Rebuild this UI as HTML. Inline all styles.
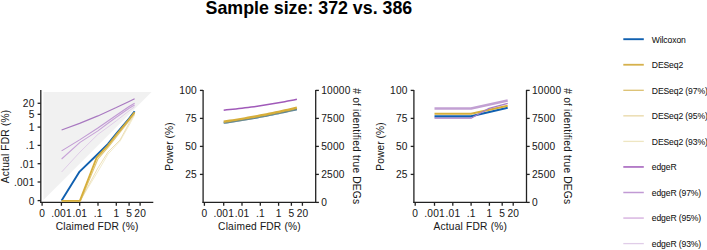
<!DOCTYPE html>
<html><head><meta charset="utf-8"><style>
html,body{margin:0;padding:0;background:#fff;}
svg{display:block;font-family:"Liberation Sans", sans-serif;}
</style></head><body>
<svg width="707" height="250" viewBox="0 0 707 250">
<rect width="707" height="250" fill="#fff"/>
<text x="308.9" y="14.1" text-anchor="middle" font-size="17.8" font-weight="bold" fill="#000">Sample size: 372 vs. 386</text>
<polygon points="43.4,92 151.5,92 43.4,200.1" fill="#f1f1f1"/>
<line x1="40.8" y1="90" x2="40.8" y2="202.95" stroke="#222" stroke-width="1.3"/>
<line x1="37.6" y1="200.6" x2="40.8" y2="200.6" stroke="#222" stroke-width="1.3"/>
<text x="34.6" y="204.5" text-anchor="end" font-size="10.2" font-weight="normal" fill="#1a1a1a" letter-spacing="0.2" stroke="#1a1a1a" stroke-width="0.05">0</text>
<line x1="37.6" y1="182" x2="40.8" y2="182" stroke="#222" stroke-width="1.3"/>
<text x="34.6" y="185.9" text-anchor="end" font-size="10.2" font-weight="normal" fill="#1a1a1a" letter-spacing="0.2" stroke="#1a1a1a" stroke-width="0.05">.001</text>
<line x1="37.6" y1="163.7" x2="40.8" y2="163.7" stroke="#222" stroke-width="1.3"/>
<text x="34.6" y="167.6" text-anchor="end" font-size="10.2" font-weight="normal" fill="#1a1a1a" letter-spacing="0.2" stroke="#1a1a1a" stroke-width="0.05">.01</text>
<line x1="37.6" y1="145.4" x2="40.8" y2="145.4" stroke="#222" stroke-width="1.3"/>
<text x="34.6" y="149.3" text-anchor="end" font-size="10.2" font-weight="normal" fill="#1a1a1a" letter-spacing="0.2" stroke="#1a1a1a" stroke-width="0.05">.1</text>
<line x1="37.6" y1="127.1" x2="40.8" y2="127.1" stroke="#222" stroke-width="1.3"/>
<text x="34.6" y="131" text-anchor="end" font-size="10.2" font-weight="normal" fill="#1a1a1a" letter-spacing="0.2" stroke="#1a1a1a" stroke-width="0.05">1</text>
<line x1="37.6" y1="114.31" x2="40.8" y2="114.31" stroke="#222" stroke-width="1.3"/>
<text x="34.6" y="118.21" text-anchor="end" font-size="10.2" font-weight="normal" fill="#1a1a1a" letter-spacing="0.2" stroke="#1a1a1a" stroke-width="0.05">5</text>
<line x1="37.6" y1="103.29" x2="40.8" y2="103.29" stroke="#222" stroke-width="1.3"/>
<text x="34.6" y="107.19" text-anchor="end" font-size="10.2" font-weight="normal" fill="#1a1a1a" letter-spacing="0.2" stroke="#1a1a1a" stroke-width="0.05">20</text>
<line x1="40.25" y1="202.4" x2="153.3" y2="202.4" stroke="#222" stroke-width="1.3"/>
<line x1="42.1" y1="202.4" x2="42.1" y2="205.8" stroke="#222" stroke-width="1.3"/>
<text x="42.2" y="216.6" text-anchor="middle" font-size="10.2" font-weight="normal" fill="#1a1a1a" letter-spacing="0.2" stroke="#1a1a1a" stroke-width="0.05">0</text>
<line x1="61.4" y1="202.4" x2="61.4" y2="205.8" stroke="#222" stroke-width="1.3"/>
<text x="61.5" y="216.6" text-anchor="middle" font-size="10.2" font-weight="normal" fill="#1a1a1a" letter-spacing="0.2" stroke="#1a1a1a" stroke-width="0.05">.001</text>
<line x1="79.7" y1="202.4" x2="79.7" y2="205.8" stroke="#222" stroke-width="1.3"/>
<text x="79.8" y="216.6" text-anchor="middle" font-size="10.2" font-weight="normal" fill="#1a1a1a" letter-spacing="0.2" stroke="#1a1a1a" stroke-width="0.05">.01</text>
<line x1="98" y1="202.4" x2="98" y2="205.8" stroke="#222" stroke-width="1.3"/>
<text x="98.1" y="216.6" text-anchor="middle" font-size="10.2" font-weight="normal" fill="#1a1a1a" letter-spacing="0.2" stroke="#1a1a1a" stroke-width="0.05">.1</text>
<line x1="116.3" y1="202.4" x2="116.3" y2="205.8" stroke="#222" stroke-width="1.3"/>
<text x="116.4" y="216.6" text-anchor="middle" font-size="10.2" font-weight="normal" fill="#1a1a1a" letter-spacing="0.2" stroke="#1a1a1a" stroke-width="0.05">1</text>
<line x1="129.09" y1="202.4" x2="129.09" y2="205.8" stroke="#222" stroke-width="1.3"/>
<text x="129.19" y="216.6" text-anchor="middle" font-size="10.2" font-weight="normal" fill="#1a1a1a" letter-spacing="0.2" stroke="#1a1a1a" stroke-width="0.05">5</text>
<line x1="140.11" y1="202.4" x2="140.11" y2="205.8" stroke="#222" stroke-width="1.3"/>
<text x="140.21" y="216.6" text-anchor="middle" font-size="10.2" font-weight="normal" fill="#1a1a1a" letter-spacing="0.2" stroke="#1a1a1a" stroke-width="0.05">20</text>
<text x="97.15" y="229.8" text-anchor="middle" font-size="10.2" font-weight="normal" fill="#1a1a1a" letter-spacing="0.2" stroke="#1a1a1a" stroke-width="0.05">Claimed FDR (%)</text>
<text x="9.1" y="146.4" text-anchor="middle" font-size="10.2" font-weight="normal" fill="#1a1a1a" transform="rotate(-90 9.1 146.4)" letter-spacing="0.2" stroke="#1a1a1a" stroke-width="0.05">Actual FDR (%)</text>
<polyline points="61.6,172 80,152 97.9,134.4 108,127 116.3,120.8 129.1,110.8 134.6,106.8" fill="none" stroke="#e0cde8" stroke-width="1.0" stroke-linejoin="round" stroke-linecap="butt"/>
<polyline points="61.6,159 80,142.4 97.9,130.9 108,123.3 116.3,117.2 129.1,108.3 134.6,105" fill="none" stroke="#c7a2d8" stroke-width="1.1" stroke-linejoin="round" stroke-linecap="butt"/>
<polyline points="61.6,150.9 80,139.6 97.9,128 108,121 116.3,115.3 129.1,106.5 134.6,103.2" fill="none" stroke="#c19ad4" stroke-width="1.1" stroke-linejoin="round" stroke-linecap="butt"/>
<polyline points="61.6,200.6 80.2,200.6 97.9,171.5 108,154.2 120,141.2 129.8,124 134.6,115" fill="none" stroke="#eee6c2" stroke-width="0.8" stroke-linejoin="round" stroke-linecap="butt"/>
<polyline points="61.6,200.6 80.4,200.6 97.9,168 108,152 120,140 129.5,122.5 134.6,114" fill="none" stroke="#e8d7a5" stroke-width="0.8" stroke-linejoin="round" stroke-linecap="butt"/>
<polyline points="61.6,200.9 80.6,200.9 98,158.8 108.6,146.6 116.9,136.2 129.4,120.4 134.6,113.2" fill="none" stroke="#e0c674" stroke-width="1.1" stroke-linejoin="round" stroke-linecap="butt"/>
<polyline points="61.6,200.5 79.6,171.6 97.6,154.2 108,143.8 116.3,133.6 129.1,118.5 134.6,111.2" fill="none" stroke="#1060b0" stroke-width="1.9" stroke-linejoin="round" stroke-linecap="butt"/>
<polyline points="61.6,200.9 79.8,200.9 96.6,157.6 108,145.3 116.3,134.8 129.1,119.3 134.6,112.3" fill="none" stroke="#d6ae3a" stroke-width="1.75" stroke-linejoin="round" stroke-linecap="butt"/>
<polyline points="61.6,130 79.6,123.4 97.9,115.9 116.3,107.6 129.1,101.4 134.6,98.8" fill="none" stroke="#a878c0" stroke-width="1.15" stroke-linejoin="round" stroke-linecap="butt"/>
<line x1="203.1" y1="89.9" x2="203.1" y2="202.95" stroke="#222" stroke-width="1.3"/>
<line x1="315.7" y1="89.9" x2="315.7" y2="202.95" stroke="#222" stroke-width="1.3"/>
<line x1="199.9" y1="174.4" x2="203.1" y2="174.4" stroke="#222" stroke-width="1.3"/>
<text x="196.9" y="178.3" text-anchor="end" font-size="10.2" font-weight="normal" fill="#1a1a1a" letter-spacing="0.2" stroke="#1a1a1a" stroke-width="0.05">25</text>
<line x1="199.9" y1="146.4" x2="203.1" y2="146.4" stroke="#222" stroke-width="1.3"/>
<text x="196.9" y="150.3" text-anchor="end" font-size="10.2" font-weight="normal" fill="#1a1a1a" letter-spacing="0.2" stroke="#1a1a1a" stroke-width="0.05">50</text>
<line x1="199.9" y1="118.4" x2="203.1" y2="118.4" stroke="#222" stroke-width="1.3"/>
<text x="196.9" y="122.3" text-anchor="end" font-size="10.2" font-weight="normal" fill="#1a1a1a" letter-spacing="0.2" stroke="#1a1a1a" stroke-width="0.05">75</text>
<line x1="199.9" y1="90.4" x2="203.1" y2="90.4" stroke="#222" stroke-width="1.3"/>
<text x="196.9" y="94.3" text-anchor="end" font-size="10.2" font-weight="normal" fill="#1a1a1a" letter-spacing="0.2" stroke="#1a1a1a" stroke-width="0.05">100</text>
<line x1="315.7" y1="202.4" x2="318.9" y2="202.4" stroke="#222" stroke-width="1.3"/>
<text x="321.2" y="206.3" text-anchor="start" font-size="10.2" font-weight="normal" fill="#1a1a1a" letter-spacing="0.2" stroke="#1a1a1a" stroke-width="0.05">0</text>
<line x1="315.7" y1="174.4" x2="318.9" y2="174.4" stroke="#222" stroke-width="1.3"/>
<text x="321.2" y="178.3" text-anchor="start" font-size="10.2" font-weight="normal" fill="#1a1a1a" letter-spacing="0.2" stroke="#1a1a1a" stroke-width="0.05">2500</text>
<line x1="315.7" y1="146.4" x2="318.9" y2="146.4" stroke="#222" stroke-width="1.3"/>
<text x="321.2" y="150.3" text-anchor="start" font-size="10.2" font-weight="normal" fill="#1a1a1a" letter-spacing="0.2" stroke="#1a1a1a" stroke-width="0.05">5000</text>
<line x1="315.7" y1="118.4" x2="318.9" y2="118.4" stroke="#222" stroke-width="1.3"/>
<text x="321.2" y="122.3" text-anchor="start" font-size="10.2" font-weight="normal" fill="#1a1a1a" letter-spacing="0.2" stroke="#1a1a1a" stroke-width="0.05">7500</text>
<line x1="315.7" y1="90.4" x2="318.9" y2="90.4" stroke="#222" stroke-width="1.3"/>
<text x="321.2" y="94.3" text-anchor="start" font-size="10.2" font-weight="normal" fill="#1a1a1a" letter-spacing="0.2" stroke="#1a1a1a" stroke-width="0.05">10000</text>
<line x1="202.55" y1="202.4" x2="315.7" y2="202.4" stroke="#222" stroke-width="1.3"/>
<line x1="204.4" y1="202.4" x2="204.4" y2="205.8" stroke="#222" stroke-width="1.3"/>
<text x="204.5" y="216.6" text-anchor="middle" font-size="10.2" font-weight="normal" fill="#1a1a1a" letter-spacing="0.2" stroke="#1a1a1a" stroke-width="0.05">0</text>
<line x1="223.7" y1="202.4" x2="223.7" y2="205.8" stroke="#222" stroke-width="1.3"/>
<text x="223.8" y="216.6" text-anchor="middle" font-size="10.2" font-weight="normal" fill="#1a1a1a" letter-spacing="0.2" stroke="#1a1a1a" stroke-width="0.05">.001</text>
<line x1="242" y1="202.4" x2="242" y2="205.8" stroke="#222" stroke-width="1.3"/>
<text x="242.1" y="216.6" text-anchor="middle" font-size="10.2" font-weight="normal" fill="#1a1a1a" letter-spacing="0.2" stroke="#1a1a1a" stroke-width="0.05">.01</text>
<line x1="260.3" y1="202.4" x2="260.3" y2="205.8" stroke="#222" stroke-width="1.3"/>
<text x="260.4" y="216.6" text-anchor="middle" font-size="10.2" font-weight="normal" fill="#1a1a1a" letter-spacing="0.2" stroke="#1a1a1a" stroke-width="0.05">.1</text>
<line x1="278.6" y1="202.4" x2="278.6" y2="205.8" stroke="#222" stroke-width="1.3"/>
<text x="278.7" y="216.6" text-anchor="middle" font-size="10.2" font-weight="normal" fill="#1a1a1a" letter-spacing="0.2" stroke="#1a1a1a" stroke-width="0.05">1</text>
<line x1="291.39" y1="202.4" x2="291.39" y2="205.8" stroke="#222" stroke-width="1.3"/>
<text x="291.49" y="216.6" text-anchor="middle" font-size="10.2" font-weight="normal" fill="#1a1a1a" letter-spacing="0.2" stroke="#1a1a1a" stroke-width="0.05">5</text>
<line x1="302.41" y1="202.4" x2="302.41" y2="205.8" stroke="#222" stroke-width="1.3"/>
<text x="302.51" y="216.6" text-anchor="middle" font-size="10.2" font-weight="normal" fill="#1a1a1a" letter-spacing="0.2" stroke="#1a1a1a" stroke-width="0.05">20</text>
<text x="259.5" y="229.8" text-anchor="middle" font-size="10.2" font-weight="normal" fill="#1a1a1a" letter-spacing="0.2" stroke="#1a1a1a" stroke-width="0.05">Claimed FDR (%)</text>
<text x="173.4" y="146.5" text-anchor="middle" font-size="10.2" font-weight="normal" fill="#1a1a1a" transform="rotate(-90 173.4 146.5)" letter-spacing="0.08" stroke="#1a1a1a" stroke-width="0.05">Power (%)</text>
<text x="353.1" y="146.3" text-anchor="middle" font-size="10.2" font-weight="normal" fill="#1a1a1a" transform="rotate(90 353.1 146.3)" letter-spacing="0.2" stroke="#1a1a1a" stroke-width="0.05"># of identified true DEGs</text>
<polyline points="223.7,122.85 226.75,122.41 229.8,121.96 232.85,121.5 235.9,121.03 238.95,120.55 242,120.05 245.05,119.55 248.1,119.03 251.15,118.5 254.2,117.96 257.25,117.41 260.3,116.85 263.35,116.28 266.4,115.69 269.45,115.1 272.5,114.49 275.55,113.87 278.6,113.24 281.65,112.6 284.7,111.94 287.75,111.28 290.8,110.61 293.85,109.92 296.9,109.22" fill="none" stroke="#1060b0" stroke-width="2.0" stroke-linejoin="round" stroke-linecap="butt"/>
<polyline points="223.7,121.75 226.75,121.3 229.8,120.84 232.85,120.36 235.9,119.88 238.95,119.38 242,118.88 245.05,118.36 248.1,117.83 251.15,117.29 254.2,116.74 257.25,116.17 260.3,115.6 263.35,115.01 266.4,114.42 269.45,113.81 272.5,113.19 275.55,112.56 278.6,111.91 281.65,111.26 284.7,110.59 287.75,109.92 290.8,109.23 293.85,108.53 296.9,107.82" fill="none" stroke="#d6ae3a" stroke-width="2.5" stroke-linejoin="round" stroke-linecap="butt"/>
<polyline points="223.7,123.35 226.75,122.91 229.8,122.46 232.85,122 235.9,121.53 238.95,121.05 242,120.55 245.05,120.05 248.1,119.53 251.15,119 254.2,118.46 257.25,117.91 260.3,117.35 263.35,116.78 266.4,116.19 269.45,115.6 272.5,114.99 275.55,114.37 278.6,113.74 281.65,113.1 284.7,112.44 287.75,111.78 290.8,111.11 293.85,110.42 296.9,109.72" fill="none" stroke="#e0c060" stroke-width="1.0" stroke-opacity="0.45"/>
<polyline points="223.7,110.14 226.75,109.86 229.8,109.56 232.85,109.25 235.9,108.92 238.95,108.58 242,108.22 245.05,107.85 248.1,107.46 251.15,107.06 254.2,106.65 257.25,106.22 260.3,105.77 263.35,105.31 266.4,104.84 269.45,104.35 272.5,103.85 275.55,103.33 278.6,102.8 281.65,102.25 284.7,101.69 287.75,101.11 290.8,100.52 293.85,99.92 296.9,99.29" fill="none" stroke="#a05ab9" stroke-width="1.5" stroke-linejoin="round" stroke-linecap="butt"/>
<line x1="413.9" y1="89.9" x2="413.9" y2="202.95" stroke="#222" stroke-width="1.3"/>
<line x1="526.5" y1="89.9" x2="526.5" y2="202.95" stroke="#222" stroke-width="1.3"/>
<line x1="410.7" y1="174.4" x2="413.9" y2="174.4" stroke="#222" stroke-width="1.3"/>
<text x="407.7" y="178.3" text-anchor="end" font-size="10.2" font-weight="normal" fill="#1a1a1a" letter-spacing="0.2" stroke="#1a1a1a" stroke-width="0.05">25</text>
<line x1="410.7" y1="146.4" x2="413.9" y2="146.4" stroke="#222" stroke-width="1.3"/>
<text x="407.7" y="150.3" text-anchor="end" font-size="10.2" font-weight="normal" fill="#1a1a1a" letter-spacing="0.2" stroke="#1a1a1a" stroke-width="0.05">50</text>
<line x1="410.7" y1="118.4" x2="413.9" y2="118.4" stroke="#222" stroke-width="1.3"/>
<text x="407.7" y="122.3" text-anchor="end" font-size="10.2" font-weight="normal" fill="#1a1a1a" letter-spacing="0.2" stroke="#1a1a1a" stroke-width="0.05">75</text>
<line x1="410.7" y1="90.4" x2="413.9" y2="90.4" stroke="#222" stroke-width="1.3"/>
<text x="407.7" y="94.3" text-anchor="end" font-size="10.2" font-weight="normal" fill="#1a1a1a" letter-spacing="0.2" stroke="#1a1a1a" stroke-width="0.05">100</text>
<line x1="526.5" y1="202.4" x2="529.7" y2="202.4" stroke="#222" stroke-width="1.3"/>
<text x="532" y="206.3" text-anchor="start" font-size="10.2" font-weight="normal" fill="#1a1a1a" letter-spacing="0.2" stroke="#1a1a1a" stroke-width="0.05">0</text>
<line x1="526.5" y1="174.4" x2="529.7" y2="174.4" stroke="#222" stroke-width="1.3"/>
<text x="532" y="178.3" text-anchor="start" font-size="10.2" font-weight="normal" fill="#1a1a1a" letter-spacing="0.2" stroke="#1a1a1a" stroke-width="0.05">2500</text>
<line x1="526.5" y1="146.4" x2="529.7" y2="146.4" stroke="#222" stroke-width="1.3"/>
<text x="532" y="150.3" text-anchor="start" font-size="10.2" font-weight="normal" fill="#1a1a1a" letter-spacing="0.2" stroke="#1a1a1a" stroke-width="0.05">5000</text>
<line x1="526.5" y1="118.4" x2="529.7" y2="118.4" stroke="#222" stroke-width="1.3"/>
<text x="532" y="122.3" text-anchor="start" font-size="10.2" font-weight="normal" fill="#1a1a1a" letter-spacing="0.2" stroke="#1a1a1a" stroke-width="0.05">7500</text>
<line x1="526.5" y1="90.4" x2="529.7" y2="90.4" stroke="#222" stroke-width="1.3"/>
<text x="532" y="94.3" text-anchor="start" font-size="10.2" font-weight="normal" fill="#1a1a1a" letter-spacing="0.2" stroke="#1a1a1a" stroke-width="0.05">10000</text>
<line x1="413.35" y1="202.4" x2="526.5" y2="202.4" stroke="#222" stroke-width="1.3"/>
<line x1="415.2" y1="202.4" x2="415.2" y2="205.8" stroke="#222" stroke-width="1.3"/>
<text x="415.3" y="216.6" text-anchor="middle" font-size="10.2" font-weight="normal" fill="#1a1a1a" letter-spacing="0.2" stroke="#1a1a1a" stroke-width="0.05">0</text>
<line x1="434.5" y1="202.4" x2="434.5" y2="205.8" stroke="#222" stroke-width="1.3"/>
<text x="434.6" y="216.6" text-anchor="middle" font-size="10.2" font-weight="normal" fill="#1a1a1a" letter-spacing="0.2" stroke="#1a1a1a" stroke-width="0.05">.001</text>
<line x1="452.8" y1="202.4" x2="452.8" y2="205.8" stroke="#222" stroke-width="1.3"/>
<text x="452.9" y="216.6" text-anchor="middle" font-size="10.2" font-weight="normal" fill="#1a1a1a" letter-spacing="0.2" stroke="#1a1a1a" stroke-width="0.05">.01</text>
<line x1="471.1" y1="202.4" x2="471.1" y2="205.8" stroke="#222" stroke-width="1.3"/>
<text x="471.2" y="216.6" text-anchor="middle" font-size="10.2" font-weight="normal" fill="#1a1a1a" letter-spacing="0.2" stroke="#1a1a1a" stroke-width="0.05">.1</text>
<line x1="489.4" y1="202.4" x2="489.4" y2="205.8" stroke="#222" stroke-width="1.3"/>
<text x="489.5" y="216.6" text-anchor="middle" font-size="10.2" font-weight="normal" fill="#1a1a1a" letter-spacing="0.2" stroke="#1a1a1a" stroke-width="0.05">1</text>
<line x1="502.19" y1="202.4" x2="502.19" y2="205.8" stroke="#222" stroke-width="1.3"/>
<text x="502.29" y="216.6" text-anchor="middle" font-size="10.2" font-weight="normal" fill="#1a1a1a" letter-spacing="0.2" stroke="#1a1a1a" stroke-width="0.05">5</text>
<line x1="513.21" y1="202.4" x2="513.21" y2="205.8" stroke="#222" stroke-width="1.3"/>
<text x="513.31" y="216.6" text-anchor="middle" font-size="10.2" font-weight="normal" fill="#1a1a1a" letter-spacing="0.2" stroke="#1a1a1a" stroke-width="0.05">20</text>
<text x="470.3" y="229.8" text-anchor="middle" font-size="10.2" font-weight="normal" fill="#1a1a1a" letter-spacing="0.2" stroke="#1a1a1a" stroke-width="0.05">Actual FDR (%)</text>
<text x="384.2" y="146.5" text-anchor="middle" font-size="10.2" font-weight="normal" fill="#1a1a1a" transform="rotate(-90 384.2 146.5)" letter-spacing="0.08" stroke="#1a1a1a" stroke-width="0.05">Power (%)</text>
<text x="563.9" y="146.3" text-anchor="middle" font-size="10.2" font-weight="normal" fill="#1a1a1a" transform="rotate(90 563.9 146.3)" letter-spacing="0.2" stroke="#1a1a1a" stroke-width="0.05"># of identified true DEGs</text>
<polyline points="434.5,108.5 471.1,108.5 507.7,100.6" fill="none" stroke="#c2a0d3" stroke-width="2.6" stroke-linejoin="round" stroke-linecap="butt"/>
<polyline points="434.5,116.3 471.1,116.3 507.7,107.7" fill="none" stroke="#1060b0" stroke-width="2.2" stroke-linejoin="round" stroke-linecap="butt"/>
<polyline points="434.5,113.8 471.1,113.8 507.7,105.7" fill="none" stroke="#d6ae3a" stroke-width="2.0" stroke-linejoin="round" stroke-linecap="butt"/>
<polyline points="434.5,118.2 471.1,118.2 489,108.3 507.7,103.3" fill="none" stroke="#a77cc4" stroke-width="1.3" stroke-linejoin="round" stroke-linecap="butt"/>
<line x1="623.3" y1="39.2" x2="643.8" y2="39.2" stroke="#1060b0" stroke-width="1.9"/>
<text x="651.8" y="42.5" text-anchor="start" font-size="8.6" font-weight="normal" fill="#111" letter-spacing="-0.12" stroke="#111" stroke-width="0.05">Wilcoxon</text>
<line x1="623.3" y1="64.75" x2="643.8" y2="64.75" stroke="#d6b14c" stroke-width="1.8"/>
<text x="651.8" y="68.05" text-anchor="start" font-size="8.6" font-weight="normal" fill="#111" letter-spacing="-0.12" stroke="#111" stroke-width="0.05">DESeq2</text>
<line x1="623.3" y1="90.3" x2="643.8" y2="90.3" stroke="#dcc070" stroke-width="1.3"/>
<text x="651.8" y="93.6" text-anchor="start" font-size="8.6" font-weight="normal" fill="#111" letter-spacing="-0.12" stroke="#111" stroke-width="0.05">DESeq2 (97%)</text>
<line x1="623.3" y1="115.85" x2="643.8" y2="115.85" stroke="#e8d7a5" stroke-width="1.3"/>
<text x="651.8" y="119.15" text-anchor="start" font-size="8.6" font-weight="normal" fill="#111" letter-spacing="-0.12" stroke="#111" stroke-width="0.05">DESeq2 (95%)</text>
<line x1="623.3" y1="141.4" x2="643.8" y2="141.4" stroke="#eee6c2" stroke-width="1.3"/>
<text x="651.8" y="144.7" text-anchor="start" font-size="8.6" font-weight="normal" fill="#111" letter-spacing="-0.12" stroke="#111" stroke-width="0.05">DESeq2 (93%)</text>
<line x1="623.3" y1="166.95" x2="643.8" y2="166.95" stroke="#a05ab9" stroke-width="1.5"/>
<text x="651.8" y="170.25" text-anchor="start" font-size="8.6" font-weight="normal" fill="#111" letter-spacing="-0.12" stroke="#111" stroke-width="0.05">edgeR</text>
<line x1="623.3" y1="192.5" x2="643.8" y2="192.5" stroke="#c19ad4" stroke-width="1.5"/>
<text x="651.8" y="195.8" text-anchor="start" font-size="8.6" font-weight="normal" fill="#111" letter-spacing="-0.12" stroke="#111" stroke-width="0.05">edgeR (97%)</text>
<line x1="623.3" y1="218.05" x2="643.8" y2="218.05" stroke="#c896d4" stroke-width="1.05"/>
<text x="651.8" y="221.35" text-anchor="start" font-size="8.6" font-weight="normal" fill="#111" letter-spacing="-0.12" stroke="#111" stroke-width="0.05">edgeR (95%)</text>
<line x1="623.3" y1="243.6" x2="643.8" y2="243.6" stroke="#e0cde8" stroke-width="1.3"/>
<text x="651.8" y="246.9" text-anchor="start" font-size="8.6" font-weight="normal" fill="#111" letter-spacing="-0.12" stroke="#111" stroke-width="0.05">edgeR (93%)</text>
</svg>
</body></html>
